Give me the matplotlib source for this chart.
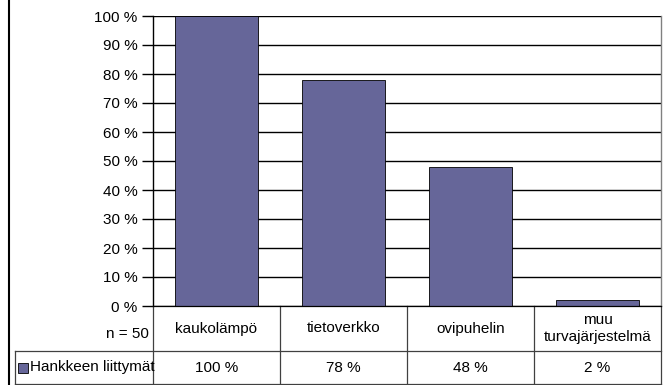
import matplotlib
matplotlib.use("Agg")
import matplotlib.pyplot as plt
from matplotlib.lines import Line2D
from matplotlib.patches import Rectangle
import matplotlib.transforms as mtransforms

plt.rcParams['font.family'] = ['Liberation Sans', 'DejaVu Sans']
FS = 11

categories = ["kaukolämpö", "tietoverkko", "ovipuhelin", "muu\nturvajärjestelmä"]
values = [100, 78, 48, 2]
series_name = "Hankkeen liittymät"
n_label = "n = 50"
yticks = list(range(0, 101, 10))

W, H = 671, 385
fig = plt.figure(figsize=(W / 100, H / 100), dpi=100)

def fx(px):
    return px / W

def fy(py):
    return 1 - py / H

x_left, x_right = 153, 661
y_top, y_bottom = 16, 306
ax = fig.add_axes([fx(x_left), fy(y_bottom), fx(x_right) - fx(x_left), fy(y_top) - fy(y_bottom)])

bar_color = "#666699"
xs = range(len(categories))
ax.bar(xs, values, width=0.66, color=bar_color, edgecolor="black", linewidth=0.6, zorder=3)
ax.set_xlim(-0.5, len(categories) - 0.5)
ax.set_ylim(0, 100)
ax.set_yticks(yticks)
ax.set_yticklabels([f"{t} %" for t in yticks], fontsize=FS)
ax.tick_params(axis="y", length=8, width=1, color="black", pad=3)
ax.set_xticks([])
for t in yticks:
    ax.axhline(t, color="black", linewidth=1, zorder=1)
for side in ["top", "bottom"]:
    ax.spines[side].set_visible(False)
ax.spines["left"].set_linewidth(1)
ax.spines["right"].set_color("#808080")
ax.spines["right"].set_linewidth(1)

# data table underneath the plot
row1_bot = 351
row2_bot = 384
trans = mtransforms.blended_transform_factory(ax.transData, fig.transFigure)
lw = 0.9
for b in [0.5, 1.5, 2.5]:
    fig.add_artist(Line2D([b, b], [fy(y_bottom), fy(row2_bot)], transform=trans, color="#404040", lw=lw))
fig.add_artist(Line2D([fx(x_right)] * 2, [fy(y_bottom), fy(row2_bot)], color="#404040", lw=lw))
fig.add_artist(Line2D([fx(x_left)] * 2, [fy(y_bottom), fy(row2_bot)], color="#404040", lw=lw))
fig.add_artist(Line2D([fx(x_left), fx(x_right)], [fy(y_bottom)] * 2, color="black", lw=lw))
fig.add_artist(Line2D([fx(15), fx(x_right)], [fy(row1_bot)] * 2, color="#404040", lw=lw))
fig.add_artist(Line2D([fx(15), fx(x_right)], [fy(row2_bot)] * 2, color="#404040", lw=lw))
fig.add_artist(Line2D([fx(15)] * 2, [fy(row1_bot), fy(row2_bot)], color="#404040", lw=lw))

# outer chart border
fig.add_artist(Line2D([fx(9)] * 2, [0, 1], color="black", lw=1.5))

row1_mid = (y_bottom + row1_bot) / 2
row2_mid = (row1_bot + row2_bot) / 2
for i, cat in enumerate(categories):
    fig.text(i, fy(row1_mid), cat, transform=trans, ha="center", va="center",
             fontsize=FS, linespacing=1.3)
    fig.text(i, fy(row2_mid), f"{values[i]} %", transform=trans, ha="center",
             va="center", fontsize=FS)
fig.text(fx(149), fy(row1_mid + 6), n_label, ha="right", va="center", fontsize=FS)

# legend key in the table
fig.add_artist(Rectangle((fx(18), fy(row2_mid + 5)), fx(10), fy(0) - fy(10),
                         facecolor=bar_color, edgecolor="black", lw=0.6))
fig.text(fx(30), fy(row2_mid), series_name, ha="left", va="center", fontsize=FS)

fig.savefig("out.png", dpi=100)
